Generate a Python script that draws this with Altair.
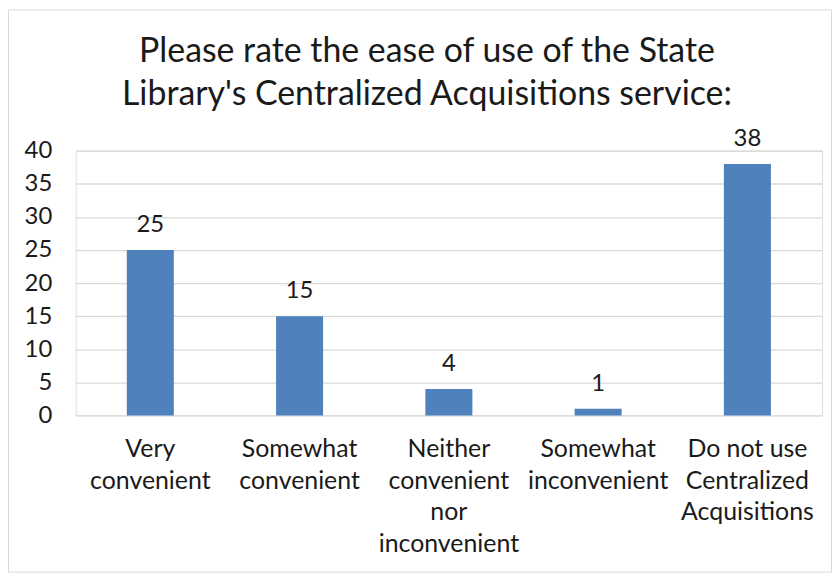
import altair as alt
import pandas as pd

categories = [
    "Very convenient",
    "Somewhat convenient",
    "Neither convenient nor inconvenient",
    "Somewhat inconvenient",
    "Do not use Centralized Acquisitions",
]
wrapped = [
    ["Very", "convenient"],
    ["Somewhat", "convenient"],
    ["Neither", "convenient", "nor", "inconvenient"],
    ["Somewhat", "inconvenient"],
    ["Do not use", "Centralized", "Acquisitions"],
]
values = [25, 15, 4, 1, 38]
y_ticks = [0, 5, 10, 15, 20, 25, 30, 35, 40]
title_lines = [
    "Please rate the ease of use of the State",
    "Library's Centralized Acquisitions service:",
]

df = pd.DataFrame({"category": categories, "value": values})

expr = "''"
for c, w in reversed(list(zip(categories, wrapped))):
    arr = "[" + ",".join("'" + s + "'" for s in w) + "]"
    expr = f"datum.label == '{c}' ? {arr} : ({expr})"

FONT = "Lato"
W, H = 750, 266
PL, PT, PR, PB = 68, 142, 10, 158

x = alt.X(
    "category:N",
    sort=categories,
    title=None,
    scale=alt.Scale(paddingInner=0.685, paddingOuter=0.3425),
    axis=alt.Axis(
        labelExpr=expr,
        labelAngle=0,
        labelFont=FONT,
        labelFontSize=25,
        labelColor="#1a1a1a",
        labelLineHeight=32,
        labelPadding=21,
        labelLimit=0,
        domain=False,
        ticks=False,
        grid=False,
    ),
)
y = alt.Y(
    "value:Q",
    title=None,
    scale=alt.Scale(domain=[0, 40], nice=False),
    axis=alt.Axis(
        values=y_ticks,
        labelFont=FONT,
        labelFontSize=24,
        labelColor="#1a1a1a",
        labelPadding=24,
        domain=False,
        ticks=False,
        grid=True,
        gridColor="#d9d9d9",
        gridWidth=1.3,
    ),
)

bars = alt.Chart(df).mark_bar(color="#4f81bd").encode(x=x, y=y)
labels = alt.Chart(df).mark_text(
    font=FONT, fontSize=24, color="#1a1a1a", baseline="alphabetic", dy=-18
).encode(x=x, y=y, text="value:Q")

border = alt.Chart(pd.DataFrame({"b": [0]})).mark_rect(
    fill=None, stroke="#d9d9d9", strokeWidth=1, clip=False
).encode(
    x=alt.value(-PL + 0.5),
    x2=alt.value(W + PR - 0.5),
    y=alt.value(-PT + 0.5),
    y2=alt.value(H + PB - 0.5),
)

chart = (
    alt.layer(border, bars, labels)
    .properties(
        width=W,
        height=H,
        padding={"left": PL, "top": PT, "right": PR, "bottom": PB},
        autosize=alt.AutoSizeParams(type="none"),
        title=alt.TitleParams(
            text=title_lines,
            font=FONT,
            fontSize=34,
            fontWeight="normal",
            color="#1a1a1a",
            anchor="middle",
            frame="group",
            dx=-22,
            lineHeight=43,
            baseline="alphabetic",
            offset=-130,
        ),
    )
    .configure_view(stroke=None)
    .configure(background="white")
)

chart.save("out.html", embed_options={"renderer": "svg", "actions": False})
